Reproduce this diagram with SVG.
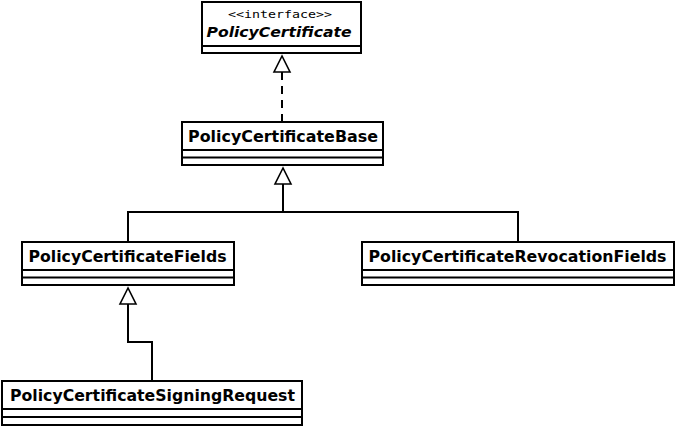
<svg xmlns="http://www.w3.org/2000/svg" width="676" height="427" viewBox="0 0 676 427">
<defs>
<style>
.box{fill:#fff;stroke:#000;stroke-width:2}
.sep{stroke:#000;stroke-width:2;fill:none}
.t{font-family:"DejaVu Sans",sans-serif;font-weight:bold;font-size:15px;text-anchor:middle;fill:#000}
.ti{font-style:italic;font-size:14px}
.st{font-family:"DejaVu Sans Mono",monospace;font-size:10px;text-anchor:middle;fill:#000}
.c{stroke:#000;stroke-width:2;fill:none}
.d{stroke-dasharray:8,6}
.ar{fill:#fff;stroke:#000;stroke-width:1.6}
</style>
</defs>
<g id="connectors">
<path class="c d" d="M282,122 L282,72"/>
<polygon class="ar" points="282,56 274,72 290,72"/>
<path class="c" d="M128,242 L128,212 L518,212 L518,242"/>
<path class="c" d="M283,212 L283,184"/>
<polygon class="ar" points="283,168 275,184 291,184"/>
<path class="c" d="M152,381 L152,342 L128,342 L128,304"/>
<polygon class="ar" points="128,288 120,304 136,304"/>
</g>
<g id="PolicyCertificate">
<rect class="box" x="202" y="2" width="159" height="51"/>
<line class="sep" x1="202" y1="46" x2="361" y2="46"/>
<text class="st" x="280" y="18" textLength="104" lengthAdjust="spacingAndGlyphs">&lt;&lt;interface&gt;&gt;</text>
<text class="t ti" x="279" y="36.5" textLength="145" lengthAdjust="spacingAndGlyphs">PolicyCertificate</text>
</g>
<g id="PolicyCertificateBase">
<rect class="box" x="182" y="122" width="201" height="43"/>
<line class="sep" x1="182" y1="150" x2="383" y2="150"/>
<line class="sep" x1="182" y1="157.5" x2="383" y2="157.5"/>
<text class="t" x="283" y="141.5" textLength="190" lengthAdjust="spacingAndGlyphs">PolicyCertificateBase</text>
</g>
<g id="PolicyCertificateFields">
<rect class="box" x="22" y="242" width="212" height="43"/>
<line class="sep" x1="22" y1="270" x2="234" y2="270"/>
<line class="sep" x1="22" y1="277.5" x2="234" y2="277.5"/>
<text class="t" x="127.5" y="262" textLength="198" lengthAdjust="spacingAndGlyphs">PolicyCertificateFields</text>
</g>
<g id="PolicyCertificateRevocationFields">
<rect class="box" x="362" y="242" width="312" height="43"/>
<line class="sep" x1="362" y1="270" x2="674" y2="270"/>
<line class="sep" x1="362" y1="277.5" x2="674" y2="277.5"/>
<text class="t" x="517.5" y="262" textLength="298" lengthAdjust="spacingAndGlyphs">PolicyCertificateRevocationFields</text>
</g>
<g id="PolicyCertificateSigningRequest">
<rect class="box" x="2" y="381" width="300" height="44"/>
<line class="sep" x1="2" y1="409" x2="302" y2="409"/>
<line class="sep" x1="2" y1="417" x2="302" y2="417"/>
<text class="t" x="152.5" y="400.5" textLength="285" lengthAdjust="spacingAndGlyphs">PolicyCertificateSigningRequest</text>
</g>
</svg>
